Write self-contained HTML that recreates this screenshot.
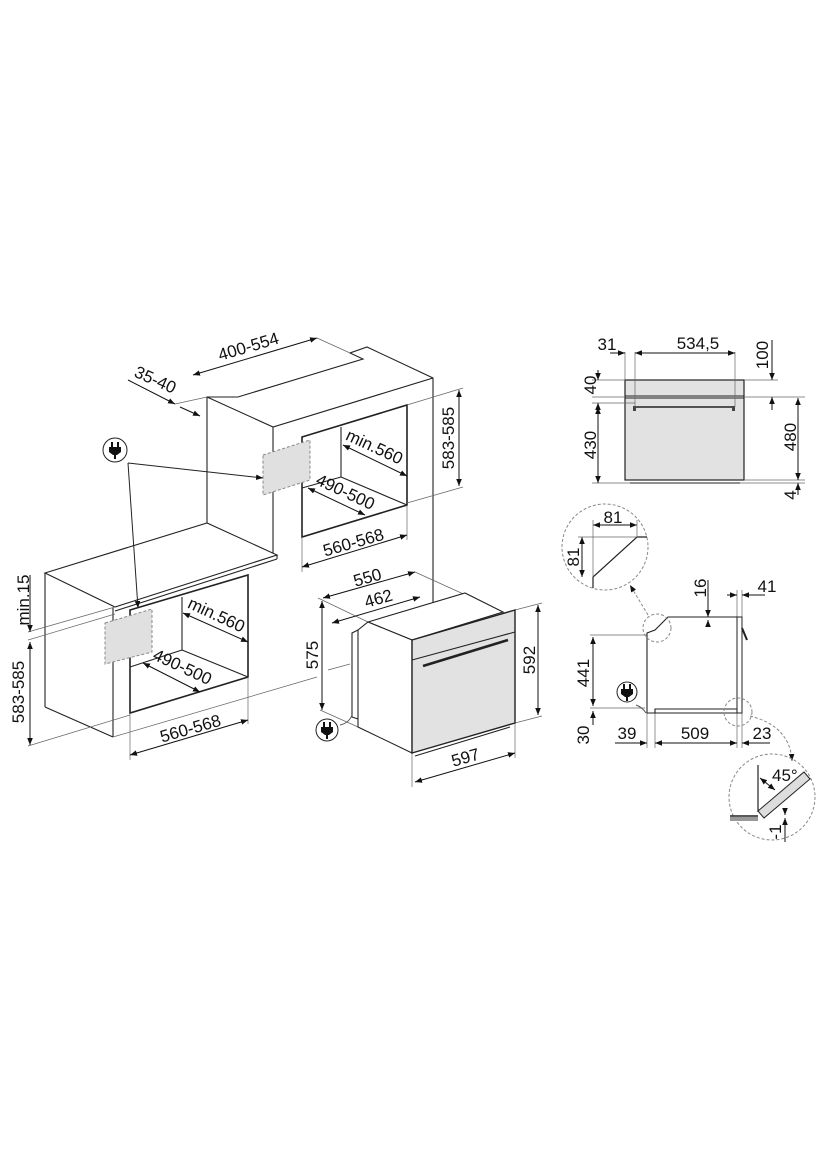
<!DOCTYPE html>
<html><head><meta charset="utf-8"><style>
html,body{margin:0;padding:0;background:#fff}
svg{display:block}
text{font-family:"Liberation Sans",sans-serif;font-size:17px;fill:#111}
</style></head><body>
<svg width="833" height="1167" viewBox="0 0 833 1167" xmlns="http://www.w3.org/2000/svg">
<defs>
<marker id="a" viewBox="0 0 10 10" refX="10" refY="5" markerWidth="7" markerHeight="7" orient="auto-start-reverse"><path d="M0,1 L10,5 L0,9 z" fill="#111"/></marker>
<g id="plug">
<rect x="-4" y="-8" width="2" height="5" fill="#111"/><rect x="2" y="-8" width="2" height="5" fill="#111"/>
<path d="M-6,-3 H6 V2 L2,5 H-2 L-6,2 Z" fill="#111"/>
<rect x="-1" y="5" width="2" height="4" fill="#111"/>
</g>
</defs>
<g stroke="#222" stroke-width="1.1" fill="none">
<polyline points="207,523 207,397 238,397 363,359 350,353 367,347 433,378 433,602"/>
<polyline points="207,397 273,427 433,378"/>
<line x1="273" y1="427" x2="273" y2="553"/>
<polygon points="45,573 207,523 277,555 115,607"/>
<line x1="277" y1="555" x2="277" y2="559"/>
<line x1="277" y1="559" x2="115" y2="611"/>
<line x1="45" y1="573" x2="45" y2="707"/>
<line x1="45" y1="707" x2="113" y2="737"/>
<line x1="113" y1="608" x2="113" y2="737"/>
<polygon points="130,610 248,575 248,677 130,713" stroke-width="1.6"/>
<polyline points="130,667 182,650 182,597"/>
<line x1="182" y1="650" x2="248" y2="677"/>
<polygon points="302,437 407,405 407,505 302,537" stroke-width="1.6"/>
<polyline points="302,488 341,477 341,427"/>
<line x1="341" y1="477" x2="407" y2="505"/>
</g>
<polygon points="263,455 310,440 310,480 263,495" fill="#e0e0e0" stroke="#888" stroke-dasharray="3,2"/>
<polygon points="105,623 152,609 152,652 105,664" fill="#e0e0e0" stroke="#888" stroke-dasharray="3,2"/>
<g stroke="#666" stroke-width="0.7" fill="none">
<line x1="113" y1="737" x2="317" y2="677"/>
<line x1="328" y1="670" x2="350" y2="664"/>
<line x1="317" y1="338" x2="350" y2="353"/>
<line x1="175" y1="404" x2="207" y2="397"/>
<line x1="407" y1="405" x2="463" y2="388"/>
<line x1="407" y1="503" x2="463" y2="487"/>
<line x1="302" y1="537" x2="302" y2="572"/>
<line x1="407" y1="505" x2="407" y2="540"/>
<line x1="130" y1="713" x2="130" y2="760"/>
<line x1="248" y1="677" x2="248" y2="724"/>
<line x1="28" y1="632" x2="115" y2="607"/>
<line x1="28" y1="640" x2="115" y2="614"/>
<line x1="28" y1="746" x2="130" y2="715"/>
<line x1="318" y1="598" x2="368" y2="622"/>
<line x1="415" y1="572" x2="503" y2="612"/>
<line x1="320" y1="710" x2="358" y2="727"/>
<line x1="515" y1="610" x2="542" y2="603"/>
<line x1="515" y1="723" x2="542" y2="716"/>
<line x1="412" y1="753" x2="412" y2="787"/>
<line x1="515" y1="723" x2="515" y2="758"/>
</g>
<g stroke="#222" stroke-width="1" fill="none" marker-end="url(#a)">
<line x1="128" y1="463" x2="263" y2="478"/>
<line x1="128" y1="463" x2="138" y2="608"/>
</g>
<g stroke="#111" stroke-width="1" fill="none" marker-start="url(#a)" marker-end="url(#a)">
<line x1="193" y1="375" x2="317" y2="338"/>
<line x1="459" y1="390" x2="459" y2="486"/>
<line x1="343" y1="445" x2="407" y2="476"/>
<line x1="308" y1="488" x2="365" y2="515"/>
<line x1="302" y1="567" x2="407" y2="535"/>
<line x1="183" y1="613" x2="248" y2="642"/>
<line x1="143" y1="663" x2="200" y2="692"/>
<line x1="130" y1="755" x2="248" y2="720"/>
<line x1="30" y1="642" x2="30" y2="745"/>
<line x1="323" y1="598" x2="415" y2="572"/>
<line x1="332" y1="623" x2="420" y2="597"/>
<line x1="322" y1="601" x2="322" y2="710"/>
<line x1="538" y1="605" x2="538" y2="715"/>
<line x1="415" y1="782" x2="515" y2="753"/>
</g>
<g stroke="#111" stroke-width="1" fill="none" marker-end="url(#a)">
<line x1="128" y1="380" x2="175" y2="404"/>
<line x1="180" y1="407" x2="200" y2="416"/>
<line x1="30" y1="575" x2="30" y2="632"/>
</g>
<g stroke="#222" stroke-width="1.1">
<polygon points="368,622 465,593 503,612 412,640" fill="#fff"/>
<polygon points="368,622 412,640 412,753 358,727 358,630" fill="#fff"/>
<polyline points="358,630 352,633 352,717 358,719" fill="none"/>
<polygon points="412,640 515,610 515,723 412,753" fill="#e2e2e2" stroke-width="1.4"/>
<line x1="412" y1="660" x2="515" y2="632"/>
<line x1="423" y1="666" x2="508" y2="640" stroke-width="2.5"/>
<line x1="415" y1="756" x2="510" y2="727"/>
</g>
<path d="M352,715 q-3,8 -12,10" stroke="#555" fill="none"/>
<circle cx="115" cy="450" r="12" fill="#fff" stroke="#222"/>
<use href="#plug" x="115" y="450"/>
<circle cx="327" cy="730" r="11" fill="#fff" stroke="#222"/>
<use href="#plug" x="327" y="730"/>
<circle cx="627" cy="692" r="10" fill="#fff" stroke="#222"/>
<use href="#plug" x="627" y="692"/>
<text transform="translate(250,352) rotate(-16.5)" text-anchor="middle">400-554</text>
<text transform="translate(153,385) rotate(24)" text-anchor="middle">35-40</text>
<text transform="translate(454,438) rotate(-90)" text-anchor="middle">583-585</text>
<text transform="translate(372,452) rotate(25)" text-anchor="middle">min.560</text>
<text transform="translate(343,497) rotate(25)" text-anchor="middle">490-500</text>
<text transform="translate(355,548) rotate(-16)" text-anchor="middle">560-568</text>
<text transform="translate(214,620) rotate(25)" text-anchor="middle">min.560</text>
<text transform="translate(180,672) rotate(25)" text-anchor="middle">490-500</text>
<text transform="translate(192,734) rotate(-16)" text-anchor="middle">560-568</text>
<text transform="translate(29,600) rotate(-90)" text-anchor="middle">min.15</text>
<text transform="translate(24,692) rotate(-90)" text-anchor="middle">583-585</text>
<text transform="translate(369,583) rotate(-16)" text-anchor="middle">550</text>
<text transform="translate(380,604) rotate(-16)" text-anchor="middle">462</text>
<text transform="translate(318,655) rotate(-90)" text-anchor="middle">575</text>
<text transform="translate(535,660) rotate(-90)" text-anchor="middle">592</text>
<text transform="translate(467,763) rotate(-16)" text-anchor="middle">597</text>
<rect x="625" y="380" width="119" height="100" fill="#e2e2e2" stroke="#222" stroke-width="1.2"/>
<line x1="625" y1="396" x2="744" y2="396" stroke="#222"/>
<line x1="625" y1="398" x2="744" y2="398" stroke="#222"/>
<line x1="635" y1="407" x2="733" y2="407" stroke="#222" stroke-width="1.5"/>
<rect x="633" y="406" width="3" height="5" fill="#444"/><rect x="732" y="406" width="3" height="5" fill="#444"/>
<line x1="630" y1="483" x2="740" y2="483" stroke="#222"/>
<g stroke="#666" stroke-width="0.7">
<line x1="625" y1="352" x2="625" y2="380"/><line x1="635" y1="352" x2="635" y2="407"/><line x1="735" y1="352" x2="735" y2="407"/>
<line x1="744" y1="380" x2="778" y2="380"/><line x1="744" y1="397" x2="805" y2="397"/>
<line x1="592" y1="380" x2="625" y2="380"/><line x1="592" y1="397" x2="625" y2="397"/><line x1="592" y1="403" x2="635" y2="403"/>
<line x1="592" y1="483" x2="630" y2="483"/><line x1="744" y1="480" x2="805" y2="480"/><line x1="740" y1="483" x2="805" y2="483"/>
<line x1="590" y1="635" x2="647" y2="635"/><line x1="590" y1="708" x2="645" y2="708"/>
<line x1="647" y1="713" x2="647" y2="748"/><line x1="655" y1="713" x2="655" y2="748"/><line x1="737" y1="713" x2="737" y2="748"/><line x1="742" y1="713" x2="742" y2="748"/>
<line x1="737" y1="590" x2="737" y2="617"/><line x1="742" y1="590" x2="742" y2="620"/>
</g>
<g stroke="#111" stroke-width="1" fill="none" marker-end="url(#a)">
<line x1="610" y1="353" x2="625" y2="353"/>
<line x1="772" y1="340" x2="772" y2="380"/><line x1="772" y1="410" x2="772" y2="397"/>
<line x1="598" y1="370" x2="598" y2="380"/><line x1="598" y1="415" x2="598" y2="403"/>
<line x1="798" y1="495" x2="798" y2="483"/>
<line x1="708" y1="580" x2="708" y2="617"/><line x1="708" y1="627" x2="708" y2="620"/>
<line x1="727" y1="595" x2="737" y2="595"/><line x1="765" y1="595" x2="742" y2="595"/>
<line x1="593" y1="725" x2="593" y2="711"/>
<line x1="615" y1="743" x2="647" y2="743"/><line x1="770" y1="743" x2="742" y2="743"/>
<line x1="785" y1="842" x2="785" y2="818"/><line x1="785" y1="810" x2="785" y2="815"/>
</g>
<g stroke="#111" stroke-width="1" fill="none" marker-start="url(#a)" marker-end="url(#a)">
<line x1="635" y1="353" x2="735" y2="353"/>
<line x1="598" y1="407" x2="598" y2="483"/>
<line x1="798" y1="398" x2="798" y2="480"/>
<line x1="593" y1="637" x2="593" y2="706"/>
<line x1="655" y1="743" x2="737" y2="743"/>
<line x1="593" y1="525" x2="637" y2="525"/>
<line x1="582" y1="537" x2="582" y2="577"/>
<line x1="760" y1="778" x2="775" y2="790"/>
</g>
<text x="607" y="350" text-anchor="middle">31</text>
<text x="698" y="349" text-anchor="middle">534,5</text>
<text transform="translate(768,355) rotate(-90)" text-anchor="middle">100</text>
<text transform="translate(596,385) rotate(-90)" text-anchor="middle">40</text>
<text transform="translate(596,445) rotate(-90)" text-anchor="middle">430</text>
<text transform="translate(796,437) rotate(-90)" text-anchor="middle">480</text>
<text transform="translate(796,495) rotate(-90)" text-anchor="middle">4</text>
<circle cx="605" cy="547" r="43" fill="none" stroke="#888" stroke-dasharray="3,2"/>
<polyline points="593,588 593,577 637,537 647,537" fill="none" stroke="#222" stroke-width="1.2"/>
<line x1="593" y1="520" x2="593" y2="577" stroke="#666" stroke-width="0.7"/>
<line x1="637" y1="520" x2="637" y2="537" stroke="#666" stroke-width="0.7"/>
<line x1="578" y1="537" x2="637" y2="537" stroke="#666" stroke-width="0.7"/>
<text x="613" y="523" text-anchor="middle">81</text>
<text transform="translate(579,557) rotate(-90)" text-anchor="middle">81</text>
<polyline points="737,617 668,617 655,630 647,633 647,713 655,713 655,709 737,709 737,713" fill="none" stroke="#222" stroke-width="1.1"/>
<line x1="647" y1="713" x2="737" y2="713" stroke="#222"/>
<rect x="737" y="617" width="5" height="96" fill="#fff" stroke="#222"/>
<line x1="742" y1="628" x2="747" y2="640" stroke="#222" stroke-width="2"/>
<path d="M636,705 q6,2 10,8" stroke="#555" fill="none"/>
<circle cx="657" cy="628" r="14" fill="none" stroke="#888" stroke-dasharray="3,2"/>
<line x1="648" y1="615" x2="630" y2="585" stroke="#888" stroke-dasharray="3,2" marker-end="url(#a)"/>
<circle cx="738" cy="712" r="14" fill="none" stroke="#888" stroke-dasharray="3,2"/>
<path d="M750,716 q40,10 42,45" fill="none" stroke="#888" stroke-dasharray="3,2" marker-end="url(#a)"/>
<text transform="translate(706,588) rotate(-90)" text-anchor="middle">16</text>
<text x="767" y="592" text-anchor="middle">41</text>
<text transform="translate(589,673) rotate(-90)" text-anchor="middle">441</text>
<text transform="translate(589,735) rotate(-90)" text-anchor="middle">30</text>
<text x="627" y="739" text-anchor="middle">39</text>
<text x="695" y="739" text-anchor="middle">509</text>
<text x="762" y="739" text-anchor="middle">23</text>
<circle cx="772" cy="797" r="43" fill="none" stroke="#888" stroke-dasharray="3,2"/>
<line x1="758" y1="765" x2="758" y2="812" stroke="#222" stroke-width="1.2"/>
<polygon points="758,811 804,772 810,779 764,818" fill="#ddd" stroke="#222"/>
<line x1="730" y1="816" x2="758" y2="816" stroke="#222" stroke-width="1.5"/>
<rect x="730" y="817" width="28" height="4" fill="#999"/>
<text x="772" y="781">45°</text>
<text transform="translate(781,832) rotate(-90)" text-anchor="middle">-1</text>
</svg>
</body></html>
